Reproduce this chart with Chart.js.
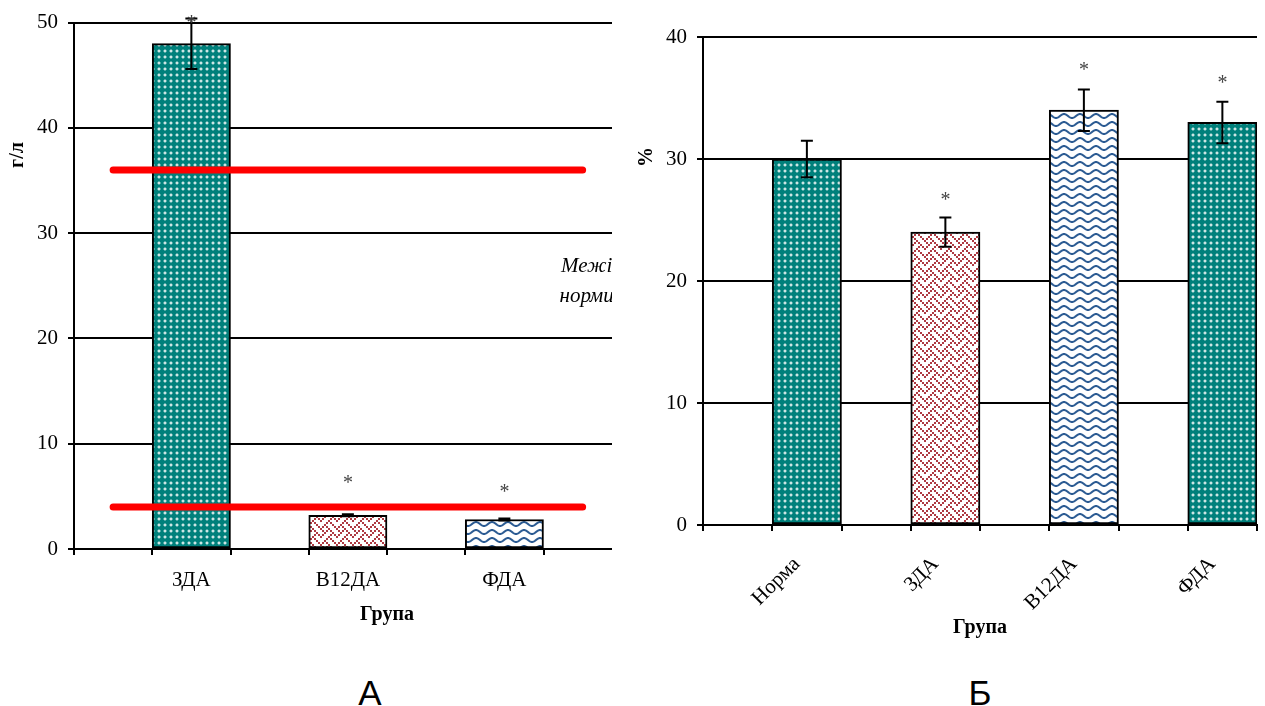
<!DOCTYPE html>
<html>
<head>
<meta charset="utf-8">
<script src="https://cdn.jsdelivr.net/npm/chart.js@4.4.1/dist/chart.umd.min.js"></script>
<style>
  body { margin: 0; background: #fff; width: 1265px; height: 706px; overflow: hidden; position: relative; }
  #leftBox { position: absolute; left: 0; top: 0; width: 612px; height: 650px; overflow: hidden; }
  #rightBox { position: absolute; left: 620px; top: 0; width: 645px; height: 650px; }
  .panel { position: absolute; top: 693px; transform: translate(-50%, -50%); font: 35px "Liberation Sans", Arial, sans-serif; color: #000; }
</style>
</head>
<body>
<div id="leftBox"><canvas id="leftChart" width="700" height="650"></canvas></div>
<div id="rightBox"><canvas id="rightChart" width="645" height="650"></canvas></div>
<div class="panel" style="left:370px">А</div>
<div class="panel" style="left:980px">Б</div>

<script>
// --- data: chart A (g/l) ---
const leftLabels = ["", "ЗДА", "", "В12ДА", "", "ФДА", "", ""];
const leftValues = [null, 48, null, 3.2, null, 2.8, null, null];
const leftErrors = [null, 2.4, null, 0.1, null, 0.1, null, null];
const leftStars = [null, 50.3, null, 6.6, null, 5.7, null, null];
const normUpper = [36, 36, 36, 36, 36, 36, 36, null];
const normLower = [4, 4, 4, 4, 4, 4, 4, null];
const leftTicks = [0, 10, 20, 30, 40, 50];

// --- data: chart Б (%) ---
const rightLabels = ["", "Норма", "", "ЗДА", "", "В12ДА", "", "ФДА"];
const rightValues = [null, 30, null, 24, null, 34, null, 33];
const rightErrors = [null, 1.5, null, 1.2, null, 1.7, null, 1.7];
const rightStars = [null, null, null, 26.9, null, 37.6, null, 36.5];
const rightTicks = [0, 10, 20, 30, 40];

Chart.defaults.font.family = "Liberation Serif";
Chart.defaults.color = "#000";

// fill patterns like the old Office ones
function tile(w, h, draw) {
  const c = document.createElement("canvas");
  c.width = w; c.height = h;
  const g = c.getContext("2d");
  draw(g);
  return g.createPattern(c, "repeat");
}

const dots = tile(6, 6, g => {
  g.fillStyle = "#00807B"; g.fillRect(0, 0, 6, 6);
  g.fillStyle = "rgba(255,255,255,0.8)"; g.fillRect(2, 2, 2, 2);
  g.fillStyle = "rgba(255,255,255,0.3)";
  g.fillRect(1, 2, 1, 2); g.fillRect(4, 2, 1, 2); g.fillRect(2, 1, 2, 1); g.fillRect(2, 4, 2, 1);
});

const weave = tile(16, 16, g => {
  const rows = [0x88, 0x54, 0x22, 0x45, 0x88, 0x14, 0x22, 0x51];
  g.fillStyle = "#fff"; g.fillRect(0, 0, 16, 16);
  g.fillStyle = "#AE3A42";
  rows.forEach((r, j) => {
    for (let i = 0; i < 8; i++) {
      if (r & (0x80 >> i)) g.fillRect(i * 2, j * 2, 2, 2);
    }
  });
});

const waves = tile(16, 8, g => {
  g.fillStyle = "#fff"; g.fillRect(0, 0, 16, 8);
  g.strokeStyle = "#2A5A92"; g.lineWidth = 2;
  g.beginPath();
  for (let x = -1; x <= 17; x += 0.5) {
    const y = 4 + 2 * Math.sin(2 * Math.PI * x / 16);
    if (x === -1) g.moveTo(x, y); else g.lineTo(x, y);
  }
  g.stroke();
});

const leftFills = [null, dots, null, weave, null, waves, null, null];
const rightFills = [null, dots, null, weave, null, waves, null, dots];

// error bars, asterisks, note text, rotated y title
const extras = {
  id: "extras",
  afterDatasetsDraw(chart, args, opts) {
    const { ctx } = chart;
    const x = chart.scales.x, y = chart.scales.y;
    ctx.save();
    ctx.strokeStyle = "#000";
    ctx.lineWidth = 2;
    opts.values.forEach((v, i) => {
      const e = opts.errors[i];
      if (v == null || e == null) return;
      const px = x.getPixelForValue(i);
      const top = y.getPixelForValue(v + e);
      const bot = y.getPixelForValue(v - e);
      ctx.beginPath();
      ctx.moveTo(px, top); ctx.lineTo(px, bot);
      ctx.moveTo(px - 6, top); ctx.lineTo(px + 6, top);
      ctx.moveTo(px - 6, bot); ctx.lineTo(px + 6, bot);
      ctx.stroke();
    });

    ctx.fillStyle = "#444";
    ctx.font = '20px "Liberation Serif"';
    ctx.textAlign = "center";
    ctx.textBaseline = "middle";
    opts.stars.forEach((s, i) => {
      if (s == null) return;
      ctx.fillText("*", x.getPixelForValue(i), y.getPixelForValue(s) + 4);
    });

    if (opts.note) {
      ctx.fillStyle = "#000";
      ctx.font = 'italic 21px "Liberation Serif"';
      const nx = x.getPixelForValue(opts.note.at) + 4;
      opts.note.lines.forEach((t, k) => {
        ctx.fillText(t, nx, y.getPixelForValue(opts.note.values[k]));
      });
    }

    ctx.fillStyle = "#000";
    ctx.font = 'bold 20px "Liberation Serif"';
    ctx.translate(opts.yTitle.x, opts.yTitle.y);
    ctx.rotate(-Math.PI / 2);
    ctx.fillText(opts.yTitle.text, 0, 0);
    ctx.restore();
  }
};

function axes(ticks, yWidth, xHeight, xTickPad, titlePad, rotate, shift) {
  return {
    x: {
      afterFit: s => { s.height = xHeight; },
      grid: { display: true, offset: true, drawOnChartArea: false, drawTicks: true, tickLength: 6, color: "#000", lineWidth: 2 },
      border: { display: true, color: "#000", width: 2 },
      ticks: { font: { size: 21 }, color: "#000", padding: xTickPad, autoSkip: false,
               minRotation: rotate, maxRotation: rotate, labelOffset: shift },
      title: { display: true, text: "Група", font: { size: 20, weight: "bold" }, padding: { top: 0, bottom: titlePad } }
    },
    y: {
      afterFit: s => { s.width = yWidth; },
      min: ticks[0],
      max: ticks[ticks.length - 1],
      ticks: { stepSize: ticks[1] - ticks[0], font: { size: 21 }, color: "#000", padding: 10 },
      grid: { color: "#000", lineWidth: 2, tickLength: 6, drawTicks: true },
      border: { display: true, color: "#000", width: 2 }
    }
  };
}

new Chart(document.getElementById("leftChart"), {
  type: "bar",
  data: {
    labels: leftLabels,
    datasets: [
      { type: "line", data: normUpper, borderColor: "#FF0000", borderWidth: 7, pointRadius: 0,
        borderCapStyle: "round", fill: false, order: 0 },
      { type: "line", data: normLower, borderColor: "#FF0000", borderWidth: 7, pointRadius: 0,
        borderCapStyle: "round", fill: false, order: 0 },
      { data: leftValues, backgroundColor: leftFills, borderColor: "#000", borderWidth: 2,
        borderSkipped: false, barPercentage: 1, categoryPercentage: 1, order: 1 }
    ]
  },
  options: {
    responsive: false,
    devicePixelRatio: 1,
    animation: false,
    layout: { padding: { top: 22, right: 0, bottom: 0, left: 0 } },
    plugins: {
      legend: { display: false },
      tooltip: { enabled: false },
      extras: {
        values: leftValues, errors: leftErrors, stars: leftStars,
        yTitle: { text: "г/л", x: 18, y: 155 },
        note: { lines: ["Межі", "норми"], at: 6, values: [26.8, 24.0] }
      }
    },
    scales: axes(leftTicks, 74, 101, 13, 23, 0, 0)
  },
  plugins: [extras]
});

new Chart(document.getElementById("rightChart"), {
  type: "bar",
  data: {
    labels: rightLabels,
    datasets: [
      { data: rightValues, backgroundColor: rightFills, borderColor: "#000", borderWidth: 2,
        borderSkipped: false, barPercentage: 1, categoryPercentage: 1 }
    ]
  },
  options: {
    responsive: false,
    devicePixelRatio: 1,
    animation: false,
    layout: { padding: { top: 37, right: 8, bottom: 0, left: 0 } },
    plugins: {
      legend: { display: false },
      tooltip: { enabled: false },
      extras: {
        values: rightValues, errors: rightErrors, stars: rightStars,
        yTitle: { text: "%", x: 27, y: 157 }
      }
    },
    scales: axes(rightTicks, 83, 125, 21, 10, 45, -10)
  },
  plugins: [extras]
});
</script>
</body>
</html>
